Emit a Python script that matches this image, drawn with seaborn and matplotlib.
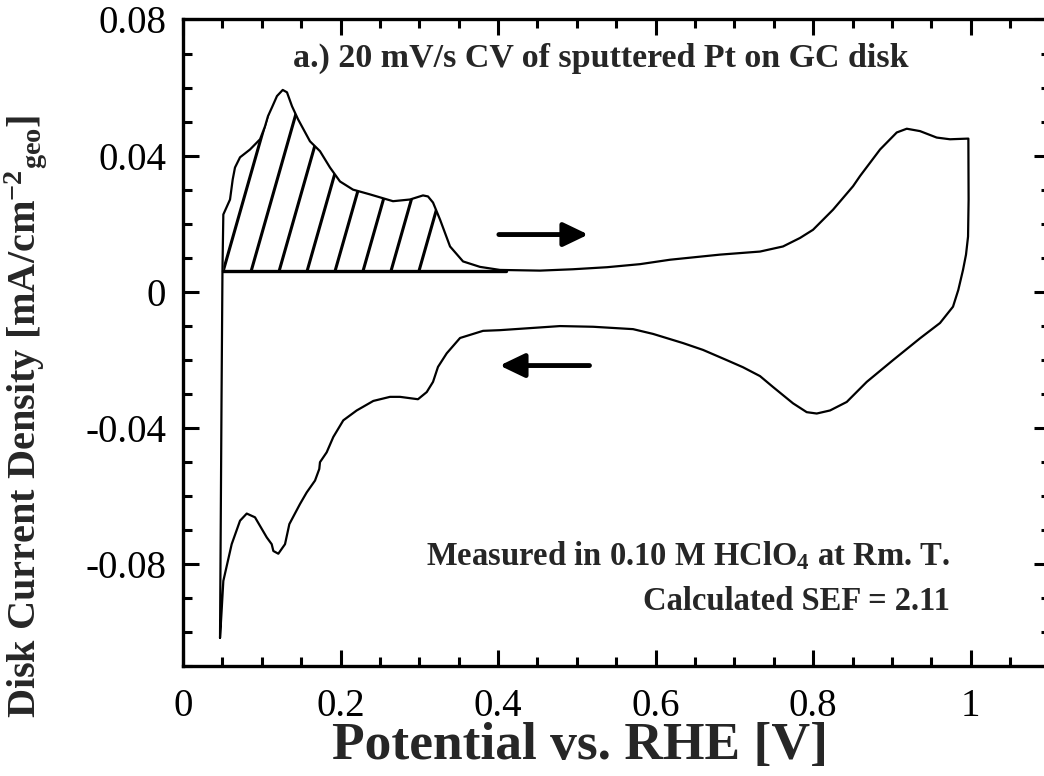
import matplotlib
matplotlib.use("Agg")
import numpy as np
import pandas as pd
import matplotlib.pyplot as plt
import seaborn as sns
from matplotlib.ticker import MultipleLocator, FuncFormatter
from matplotlib.patches import Polygon

# ---------------- data ----------------
anodic_potential = [0.0470, 0.0489, 0.0501, 0.0512, 0.0597, 0.0631, 0.0660, 0.0724, 0.0851,
                    0.0978, 0.1041, 0.1079, 0.1130, 0.1193, 0.1266, 0.1320, 0.1384, 0.1460,
                    0.1612, 0.1739, 0.1866, 0.1993, 0.2158, 0.2374, 0.2666, 0.2882, 0.3047,
                    0.3110, 0.3174, 0.3263, 0.3390, 0.3555, 0.3770, 0.4024, 0.4532, 0.4951,
                    0.5383, 0.5802, 0.6183, 0.6817, 0.7325, 0.7617, 0.7833, 0.7998, 0.8252,
                    0.8506, 0.8595, 0.8849, 0.9061, 0.9188, 0.9356, 0.9568, 0.9737, 0.9970]
anodic_current = [-0.1017, -0.0319, 0.0064, 0.0227, 0.0271, 0.0330, 0.0365, 0.0395, 0.0418,
                  0.0448, 0.0486, 0.0516, 0.0542, 0.0575, 0.0593, 0.0586, 0.0545, 0.0507,
                  0.0442, 0.0413, 0.0365, 0.0324, 0.0300, 0.0286, 0.0266, 0.0271, 0.0283,
                  0.0280, 0.0262, 0.0212, 0.0133, 0.0089, 0.0073, 0.0064, 0.0062, 0.0066,
                  0.0072, 0.0081, 0.0094, 0.0109, 0.0118, 0.0133, 0.0158, 0.0182, 0.0241,
                  0.0310, 0.0340, 0.0418, 0.0468, 0.0479, 0.0472, 0.0453, 0.0448, 0.0450]

cathodic_potential = [0.9973, 0.9966, 0.9940, 0.9902, 0.9842, 0.9775, 0.9610, 0.9356, 0.9014,
                      0.8680, 0.8426, 0.8214, 0.8045, 0.7918, 0.7744, 0.7490, 0.7325, 0.7109,
                      0.6902, 0.6601, 0.6348, 0.5967, 0.5713, 0.5205, 0.4786, 0.4024, 0.3809,
                      0.3517, 0.3348, 0.3237, 0.3174, 0.3094, 0.2983, 0.2755, 0.2628, 0.2416,
                      0.2205, 0.2035, 0.1908, 0.1824, 0.1739, 0.1730, 0.1676, 0.1570, 0.1485,
                      0.1350, 0.1295, 0.1210, 0.1147, 0.1126, 0.1063, 0.0914, 0.0809, 0.0724,
                      0.0618, 0.0512, 0.0490, 0.0470]
cathodic_current = [0.0271, 0.0162, 0.0109, 0.0064, 0.0005, -0.0044, -0.0092, -0.0137, -0.0201,
                    -0.0265, -0.0324, -0.0349, -0.0358, -0.0354, -0.0328, -0.0280, -0.0248, -0.0222,
                    -0.0201, -0.0171, -0.0151, -0.0124, -0.0110, -0.0103, -0.0101, -0.0113, -0.0115,
                    -0.0136, -0.0181, -0.0221, -0.0265, -0.0295, -0.0316, -0.0309, -0.0309, -0.0321,
                    -0.0349, -0.0378, -0.0427, -0.0472, -0.0501, -0.0521, -0.0555, -0.0590, -0.0624,
                    -0.0683, -0.0742, -0.0770, -0.0762, -0.0742, -0.0722, -0.0663, -0.0652, -0.0673,
                    -0.0742, -0.0850, -0.0939, -0.1017]

hatch_baseline = 0.0062      # double-layer baseline for H-UPD integration
hatch_end = 0.41             # end of the integrated region [V]
hatch_spacing = 0.0355       # [V]
hatch_count = 8
hatch_slope = 0.813          # current per volt of the hatch lines

title_text = "a.) 20 mV/s CV of sputtered Pt on GC disk"
note_line1 = r"Measured in 0.10 M HClO$_{4}$ at Rm. T."
note_line2 = "Calculated SEF = 2.11"
xlabel_text = "Potential vs. RHE [V]"
ylabel_text = r"Disk Current Density [mA/cm$^{-2}{}_{geo}$]"

arrow_anodic = ((0.401, 0.0168), (0.5145, 0.0168))    # (tail, head)
arrow_cathodic = ((0.516, -0.0217), (0.402, -0.0217))

# ---------------- style ----------------
sns.set_theme(style="ticks")
plt.rcParams["font.family"] = ["Liberation Serif", "DejaVu Serif"]
plt.rcParams["mathtext.fontset"] = "custom"
plt.rcParams["mathtext.rm"] = "Liberation Serif:bold"
plt.rcParams["mathtext.bf"] = "Liberation Serif:bold"
plt.rcParams["mathtext.it"] = "Liberation Serif:bold"
plt.rcParams["mathtext.default"] = "bf"
plt.rcParams["axes.unicode_minus"] = False

fig = plt.figure(figsize=(10.44, 7.76), dpi=100)
ax = fig.add_axes([183 / 1044, 1 - 666 / 776, 866.5 / 1044, 646.5 / 776])

df = pd.DataFrame({
    "Potential": anodic_potential + cathodic_potential,
    "Current": anodic_current + cathodic_current,
})
sns.lineplot(data=df, x="Potential", y="Current", sort=False, estimator=None,
             color="black", lw=1.6, ax=ax)

# hatched H-UPD region
av = np.array(anodic_potential)
aj = np.array(anodic_current)
mask = (av >= 0.0505) & (av <= hatch_end)
poly_pts = [(av[mask][0], hatch_baseline)] + list(zip(av[mask], aj[mask])) + [(hatch_end, hatch_baseline)]
clip_poly = Polygon(poly_pts, closed=True, fill=False, edgecolor="none", transform=ax.transData)
ax.add_patch(clip_poly)
x_start = av[mask][0]
for k in range(hatch_count):
    x0 = x_start + k * hatch_spacing
    xs = np.array([x0, x0 + 0.1 / hatch_slope])
    ys = hatch_baseline + hatch_slope * (xs - x0)
    ln, = ax.plot(xs, ys, color="black", lw=2.2, solid_capstyle="butt")
    ln.set_clip_path(clip_poly)
ax.plot([x_start, hatch_end], [hatch_baseline, hatch_baseline], color="black", lw=2.4)

# arrows
for tail, head in (arrow_anodic, arrow_cathodic):
    ax.annotate("", xy=head, xytext=tail,
                arrowprops=dict(arrowstyle="-|>,head_length=0.75,head_width=0.36",
                                mutation_scale=20, lw=3.5, color="black",
                                shrinkA=0, shrinkB=0))

# texts
ax.text(0.53, 0.0685, title_text, ha="center", va="center", fontsize=24.5,
        fontweight="bold")
ax.text(0.974, -0.0775, note_line1, ha="right", va="center", fontsize=23.5, fontweight="bold")
ax.text(0.974, -0.0910, note_line2, ha="right", va="center", fontsize=23.5, fontweight="bold")

# axes formatting
ax.set_xlim(0, 1.1)
ax.set_ylim(-0.11, 0.08)
ax.xaxis.set_major_locator(MultipleLocator(0.2))
ax.xaxis.set_minor_locator(MultipleLocator(0.05))
ax.yaxis.set_major_locator(MultipleLocator(0.04))
ax.yaxis.set_minor_locator(MultipleLocator(0.01))
fmt = FuncFormatter(lambda v, p: f"{round(v, 6) + 0.0:g}")
ax.xaxis.set_major_formatter(fmt)
ax.yaxis.set_major_formatter(fmt)
ax.tick_params(which="both", direction="in", top=True, right=True, width=2.2,
               labelsize=28, pad=12, color="black", labelcolor="black")
ax.tick_params(axis="x", which="both", pad=16)
ax.tick_params(which="major", length=11.5)
ax.tick_params(which="minor", length=6.5)
for sp in ax.spines.values():
    sp.set_linewidth(2.4)
    sp.set_color("black")

ax.set_xlabel(xlabel_text, fontsize=38.5, fontweight="bold")
ax.set_ylabel(ylabel_text, fontsize=29, fontweight="bold")
ax.xaxis.set_label_coords((580 - 183) / 866.5, (666 - 746) / 646.5)
ax.xaxis.label.set_va("center")
ax.yaxis.set_label_coords((26 - 183) / 866.5, (666 - 416) / 646.5)
ax.yaxis.label.set_va("center")

fig.savefig("out.png", dpi=100)
